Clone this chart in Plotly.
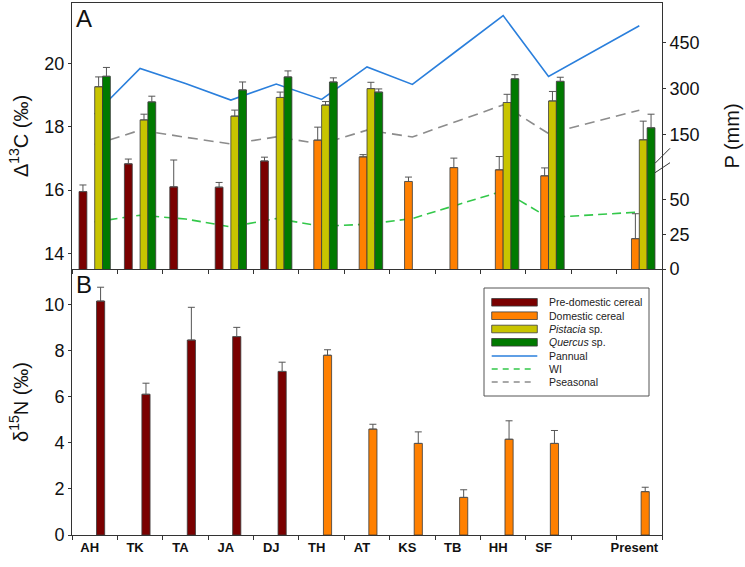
import plotly.graph_objects as go

sites = ["AH", "TK", "TA", "JA", "DJ", "TH", "AT", "KS", "TB", "HH", "SF", " ", "Present"]

# Panel A: Delta13C (per mil)
pre_c13 = [15.95, 16.83, 16.10, 16.09, 16.92, None, None, None, None, None, None, None, None]
pre_c13_err = [0.21, 0.15, 0.85, 0.15, 0.12, None, None, None, None, None, None, None, None]
dom_c13 = [None, None, None, None, None, 17.58, 17.05, 16.27, 16.71, 16.64, 16.45, None, 14.46]
dom_c13_err = [None, None, None, None, None, 0.41, 0.07, 0.14, 0.30, 0.42, 0.25, None, 0.79]
pist_c13 = [19.27, 18.22, None, 18.34, 18.93, 18.69, 19.21, None, None, 18.77, 18.82, None, 17.59]
pist_c13_err = [0.31, 0.18, None, 0.19, 0.17, 0.11, 0.20, None, None, 0.26, 0.30, None, 0.59]
querc_c13 = [19.60, 18.79, None, 19.17, 19.58, 19.42, 19.10, None, None, 19.52, 19.44, None, 17.97]
querc_c13_err = [0.28, 0.18, None, 0.25, 0.19, 0.13, 0.10, None, None, 0.13, 0.13, None, 0.43]

# Precipitation (mm)
p_annual = [216, 365, 316, 262, 314, 264, 370, 313, 425, 537, 339, None, 504]
p_seasonal = [117, 164, 141, 119, 142, 119, 164, 142, 194, 246, 153, None, 229]
wi = [33.9, 38.7, 36.0, 30.3, 36.3, 30.8, 32.2, 36.3, 46.3, 56.2, 37.0, None, 41.0]

# Panel B: delta15N (per mil)
pre_n15 = [10.14, 6.10, 8.45, 8.60, 7.09, None, None, None, None, None, None, None, None]
pre_n15_err = [0.60, 0.48, 1.42, 0.40, 0.40, None, None, None, None, None, None, None, None]
dom_n15 = [None, None, None, None, None, 7.79, 4.59, 3.97, 1.63, 4.15, 3.97, None, 1.88]
dom_n15_err = [None, None, None, None, None, 0.24, 0.21, 0.50, 0.33, 0.80, 0.56, None, 0.19]

p_upper_ticks = [150, 300, 450]
p_lower_ticks = [0, 25, 50]
c13_ticks = [14, 16, 18, 20]
n15_ticks = [0, 2, 4, 6, 8, 10]

C_PRE = "#7a0000"
C_DOM = "#ff8000"
C_PIS = "#c8c400"
C_QUE = "#007a00"
C_PAN = "#2a7fdc"
C_WI = "#33c84a"
C_PSE = "#8c8c8c"
OUTLINE = "#3a3a3a"
ERRC = "#555555"
FONT = "Liberation Sans, Arial, sans-serif"


def zeros(v):
    return [0 if a is not None else None for a in v]


def err(v):
    return dict(type="data", array=v, arrayminus=zeros(v), symmetric=False,
                color=ERRC, thickness=1, width=3.5)


fig = go.Figure()

# Lines on precipitation axes (drawn beneath bars)
fig.add_trace(go.Scatter(x=sites, y=p_annual, mode="lines", connectgaps=True,
                         line=dict(color=C_PAN, width=1.6), xaxis="x2", yaxis="y2",
                         name="Pannual", showlegend=False))
fig.add_trace(go.Scatter(x=sites, y=p_seasonal, mode="lines", connectgaps=True,
                         line=dict(color=C_PSE, width=1.6, dash="10px,6px"), xaxis="x2", yaxis="y2",
                         name="Pseasonal", showlegend=False))
fig.add_trace(go.Scatter(x=sites, y=wi, mode="lines", connectgaps=True,
                         line=dict(color=C_WI, width=1.6, dash="9px,5px"), xaxis="x2", yaxis="y3",
                         name="WI", showlegend=False))

# Panel A bars
for vals, e, col, nm in [(pre_c13, pre_c13_err, C_PRE, "Pre-domestic cereal"),
                         (dom_c13, dom_c13_err, C_DOM, "Domestic cereal"),
                         (pist_c13, pist_c13_err, C_PIS, "Pistacia sp."),
                         (querc_c13, querc_c13_err, C_QUE, "Quercus sp.")]:
    fig.add_trace(go.Bar(x=sites, y=vals, marker=dict(color=col, line=dict(color=OUTLINE, width=0.8)),
                         error_y=err(e), xaxis="x2", yaxis="y4", name=nm, showlegend=False))

# Panel B bars
for vals, e, col, nm in [(pre_n15, pre_n15_err, C_PRE, "Pre-domestic cereal"),
                         (dom_n15, dom_n15_err, C_DOM, "Domestic cereal")]:
    fig.add_trace(go.Bar(x=sites, y=vals, width=0.18, offset=0.04,
                         marker=dict(color=col, line=dict(color=OUTLINE, width=0.8)),
                         error_y=err(e), xaxis="x", yaxis="y", name=nm, showlegend=False))

axis_line = dict(showline=True, linecolor="#333333", linewidth=1, showgrid=False, zeroline=False,
                 automargin=False)
tickfont = dict(family=FONT, size=18, color="#111111")

fig.update_layout(
    width=745, height=567,
    margin=dict(l=72, r=83, t=3, b=32),
    paper_bgcolor="white", plot_bgcolor="white",
    barmode="group", bargap=0.31, bargroupgap=0,
    font=dict(family=FONT, color="#111111"),
    xaxis=dict(**axis_line, domain=[0, 1], anchor="y", type="category", categoryorder="array",
               categoryarray=sites, range=[-0.5, 12.5], tickson="boundaries", ticks="outside",
               ticklen=4, tickcolor="#333333", tickangle=0,
               tickfont=dict(family=FONT, size=13, color="#111111", weight="bold"),
               ticklabelshift=-5, mirror=False),
    xaxis2=dict(**axis_line, domain=[0, 1], anchor="y2", type="category", categoryorder="array",
                categoryarray=sites, range=[-0.5, 12.5], tickson="boundaries", ticks="outside",
                ticklen=4, tickcolor="#333333", showticklabels=False, matches="x", mirror=True),
    yaxis=dict(**axis_line, domain=[0, 0.5], anchor="x", range=[0, 11.53], tickvals=n15_ticks,
               ticks="outside", ticklen=3, tickcolor="#333333", tickfont=tickfont, mirror=True,
               title=dict(text="δ<sup>15</sup>N (‰)", font=dict(family=FONT, size=20), standoff=10)),
    yaxis2=dict(**axis_line, domain=[0.5, 1], anchor="x2", side="right", range=[-288, 578],
                tickvals=p_upper_ticks, ticks="outside", ticklen=3, tickcolor="#333333", tickfont=tickfont,
                title=dict(text="P (mm)", font=dict(family=FONT, size=20), standoff=26)),
    yaxis3=dict(showgrid=False, zeroline=False, showline=False, automargin=False, overlaying="y2",
                anchor="x2", side="right",
                range=[0, 191.4], tickvals=p_lower_ticks, ticks="outside", ticklen=3, tickcolor="#333333",
                tickfont=tickfont),
    yaxis4=dict(**axis_line, overlaying="y2", anchor="x2", side="left", range=[13.5, 21.92],
                tickvals=c13_ticks, ticks="outside", ticklen=3, tickcolor="#333333", tickfont=tickfont,
                title=dict(text="Δ<sup>13</sup>C (‰)", font=dict(family=FONT, size=20), standoff=10)),
    showlegend=False,
)

# Panel letters
fig.add_annotation(text="A", x=0.004, y=1.0, xref="paper", yref="paper", xanchor="left", yanchor="top",
                   showarrow=False, font=dict(family=FONT, size=24, color="#111111"))
fig.add_annotation(text="B", x=0.004, y=0.5, xref="paper", yref="paper", xanchor="left", yanchor="top",
                   showarrow=False, font=dict(family=FONT, size=24, color="#111111"))

# Axis break marks on the right precipitation axis
W, H, L, B = 590.0, 532.0, 72.0, 32.0


def px(xp):
    return (xp - L) / W


def py(yp):
    return (567 - B - yp) / H


for (x0, y0, x1, y1) in [(655, 163.3, 670, 148.3), (655, 172.7, 670, 162.7)]:
    fig.add_shape(type="line", xref="paper", yref="paper", x0=px(x0), y0=py(y0), x1=px(x1), y1=py(y1),
                  line=dict(color="#333333", width=1))

# Custom legend
fig.add_shape(type="rect", xref="paper", yref="paper", x0=px(484), x1=px(649), y0=py(396), y1=py(288),
              line=dict(color="#555555", width=1), fillcolor="white")
legend_items = [("Pre-domestic cereal", "bar", C_PRE, None),
                ("Domestic cereal", "bar", C_DOM, None),
                ("<i>Pistacia</i> sp.", "bar", C_PIS, None),
                ("<i>Quercus</i> sp.", "bar", C_QUE, None),
                ("Pannual", "line", C_PAN, "solid"),
                ("WI", "line", C_WI, "6px,5px"),
                ("Pseasonal", "line", C_PSE, "6px,5px")]
row_y = [302.3, 315.7, 329.0, 342.3, 356.0, 369.0, 382.0]
for (label, kind, col, dash), yc in zip(legend_items, row_y):
    if kind == "bar":
        fig.add_shape(type="rect", xref="paper", yref="paper", x0=px(491.7), x1=px(537.3),
                      y0=py(yc + 3.8), y1=py(yc - 3.8), fillcolor=col, line=dict(color=OUTLINE, width=0.8))
    else:
        fig.add_shape(type="line", xref="paper", yref="paper", x0=px(491.7), x1=px(537.3 if dash == "solid" else 534),
                      y0=py(yc), y1=py(yc), line=dict(color=col, width=1.6, dash=dash))
    fig.add_annotation(text=label, xref="paper", yref="paper", x=px(547), y=py(yc), xanchor="left",
                       yanchor="middle", showarrow=False, font=dict(family=FONT, size=10.5, color="#222222"))

fig.write_html("out.html", config={"displayModeBar": False},
               post_script="document.body.style.margin='0';")
